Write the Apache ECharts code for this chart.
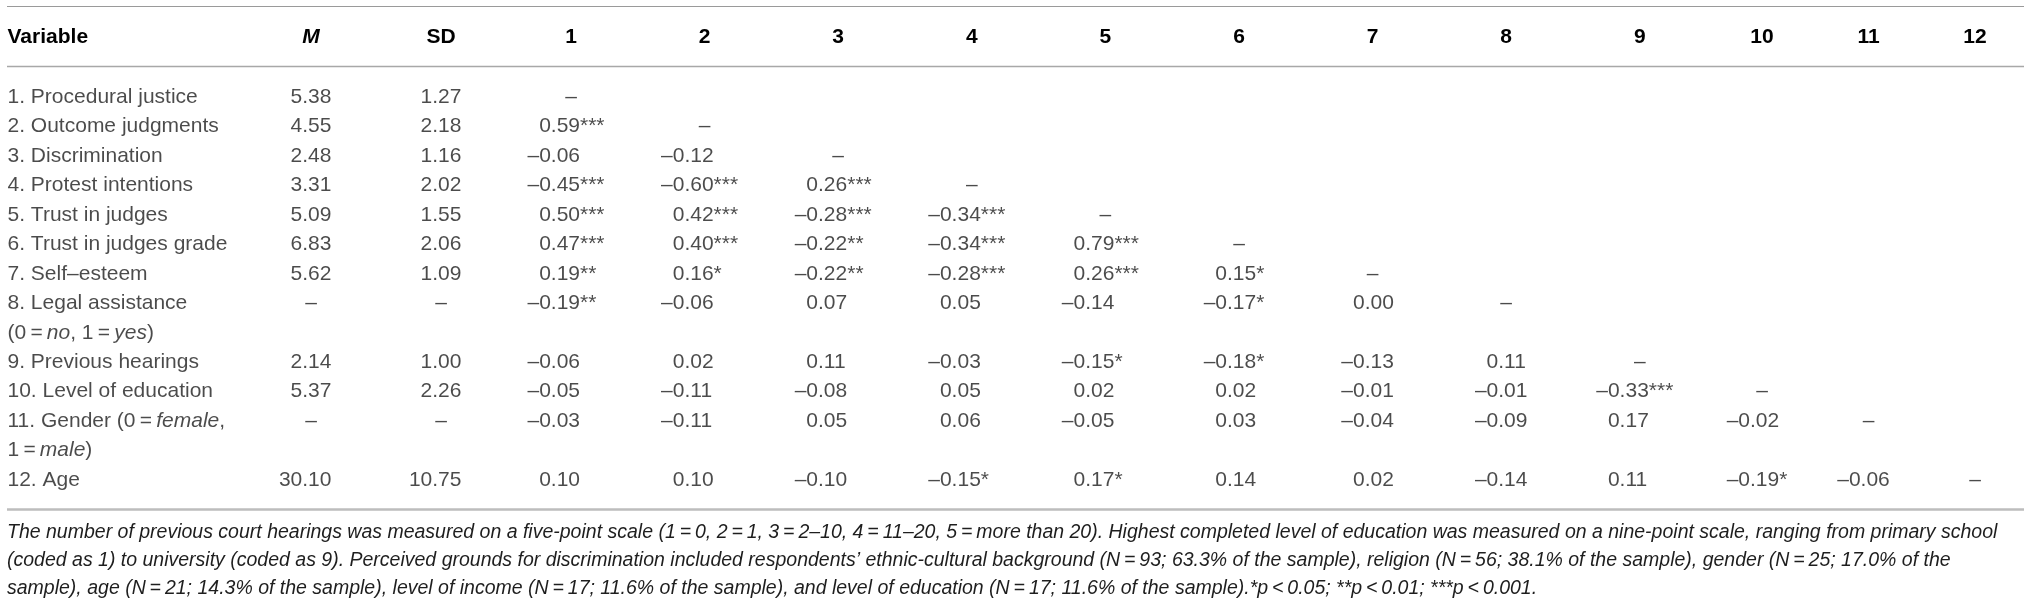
<!DOCTYPE html>
<html>
<head>
<meta charset="utf-8">
<script src="https://cdn.jsdelivr.net/npm/echarts@6/dist/echarts.min.js"></script>
<style>
html,body{margin:0;padding:0;background:#fff;}
#chart{width:2032px;height:606px;}
</style>
</head>
<body>
<div id="chart"></div>
<script>
// ---------------- DATA ----------------
const variables = [
  'Procedural justice',
  'Outcome judgments',
  'Discrimination',
  'Protest intentions',
  'Trust in judges',
  'Trust in judges grade',
  'Self\u2013esteem',
  'Legal assistance\n(0\u2009=\u2009{i|no}, 1\u2009=\u2009{i|yes})',
  'Previous hearings',
  'Level of education',
  'Gender (0\u2009=\u2009{i|female},\n1\u2009=\u2009{i|male})',
  'Age'
];
const statHeaders = ['M', 'SD'];
const corrHeaders1 = ['1','2','3','4','5','6','7','8','9'];
const corrHeaders2 = ['10','11','12'];
const means = [5.38, 4.55, 2.48, 3.31, 5.09, 6.83, 5.62, null, 2.14, 5.37, null, 30.10];
const sds   = [1.27, 2.18, 1.16, 2.02, 1.55, 2.06, 1.09, null, 1.00, 2.26, null, 10.75];
const correlations = [
  [],
  [0.59],
  [-0.06, -0.12],
  [-0.45, -0.60, 0.26],
  [0.50, 0.42, -0.28, -0.34],
  [0.47, 0.40, -0.22, -0.34, 0.79],
  [0.19, 0.16, -0.22, -0.28, 0.26, 0.15],
  [-0.19, -0.06, 0.07, 0.05, -0.14, -0.17, 0.00],
  [-0.06, 0.02, 0.11, -0.03, -0.15, -0.18, -0.13, 0.11],
  [-0.05, -0.11, -0.08, 0.05, 0.02, 0.02, -0.01, -0.01, -0.33],
  [-0.03, -0.11, 0.05, 0.06, -0.05, 0.03, -0.04, -0.09, 0.17, -0.02],
  [0.10, 0.10, -0.10, -0.15, 0.17, 0.14, 0.02, -0.14, 0.11, -0.19, -0.06]
];
const stars = [
  [],
  [3],
  [0, 0],
  [3, 3, 3],
  [3, 3, 3, 3],
  [3, 3, 2, 3, 3],
  [2, 1, 2, 3, 3, 1],
  [2, 0, 0, 0, 0, 1, 0],
  [0, 0, 0, 0, 1, 1, 0, 0],
  [0, 0, 0, 0, 0, 0, 0, 0, 3],
  [0, 0, 0, 0, 0, 0, 0, 0, 0, 0],
  [0, 0, 0, 1, 1, 0, 0, 0, 0, 1, 0]
];
const footnoteLines = [
  'The number of previous court hearings was measured on a five-point scale (1\u2009=\u20090, 2\u2009=\u20091, 3\u2009=\u20092\u201310, 4\u2009=\u200911\u201320, 5\u2009=\u2009more than 20). Highest completed level of education was measured on a nine-point scale, ranging from primary school',
  '(coded as 1) to university (coded as 9). Perceived grounds for discrimination included respondents\u2019 ethnic-cultural background (N\u2009=\u200993; 63.3% of the sample), religion (N\u2009=\u200956; 38.1% of the sample), gender (N\u2009=\u200925; 17.0% of the',
  'sample), age (N\u2009=\u200921; 14.3% of the sample), level of income (N\u2009=\u200917; 11.6% of the sample), and level of education (N\u2009=\u200917; 11.6% of the sample).*p\u2009<\u20090.05; **p\u2009<\u20090.01; ***p\u2009<\u20090.001.'
];

// ---------------- STYLE / LAYOUT ----------------
const FONT = 'Liberation Sans';
const FS = 21;
const TXT = '#1e1e1e';
const DASH = '\u2013';
const CELL_SHIFT = 5;
const TOP = 66.5, HEIGHT = 443;
const FOOT_W = 1989;   // width of the first footnote line

const ctx = document.createElement('canvas').getContext('2d');
function textW(s, size, style) {
  ctx.font = (style ? style + ' ' : '') + (size || FS) + 'px "' + FONT + '"';
  return ctx.measureText(s).width;
}
const footFS = Math.round(19 * FOOT_W / textW(footnoteLines[0], 19, 'italic') * 10) / 10;

// line slots for each variable row
const slots = [];
let totalLines = 0;
variables.forEach(v => { slots.push(totalLines); totalLines += v.split('\n').length; });

function fmtCorr(v, s, rich) {
  const body = Math.abs(v).toFixed(2) + '*'.repeat(s);
  if (v < 0) return DASH + body;
  return rich ? '{h|' + DASH + '}' + body : DASH + body;
}
function fmtStat(v) { return v == null ? DASH : v.toFixed(2); }

const richStyles = {
  h: { color: 'transparent', fontSize: FS, fontFamily: FONT },
  i: { fontStyle: 'italic', fontSize: FS, fontFamily: FONT, color: TXT }
};

// column offsets for correlation columns (block-centred, left-aligned)
const nVar = variables.length;
const colOffset = [];
for (let j = 0; j < nVar; j++) {
  let w = 0;
  for (let i = j + 1; i < nVar; i++) w = Math.max(w, textW(fmtCorr(correlations[i][j], stars[i][j], false)));
  colOffset.push(-w / 2 - CELL_SHIFT);
}
function medianHalf(arr) {
  const ws = arr.filter(v => v != null).map(v => textW(fmtStat(v))).sort((a, b) => a - b);
  return ws[Math.floor(ws.length / 2)] / 2;
}
const statOffsets = [medianHalf(means), medianHalf(sds)];

// ---------------- SERIES DATA ----------------
const labelData = [];
variables.forEach((v, i) => {
  v.split('\n').forEach((line, k) => {
    labelData.push({ value: [0, slots[i] + k], txt: (k === 0 ? (i + 1) + '. ' : '') + line });
  });
});

const statData = [];
[means, sds].forEach((arr, c) => {
  arr.forEach((v, i) => {
    statData.push({
      value: [c, slots[i]], txt: fmtStat(v),
      label: v == null ? { align: 'center', offset: [0, 0] } : { align: 'right', offset: [statOffsets[c], 0] }
    });
  });
});

function corrDataFor(startCol, nCols) {
  const out = [];
  for (let i = 0; i < nVar; i++) {
    for (let j = startCol; j < startCol + nCols && j <= i; j++) {
      if (j === i) {
        out.push({ value: [j - startCol, slots[i]], txt: DASH, label: { align: 'center', offset: [0, 0] } });
      } else {
        out.push({ value: [j - startCol, slots[i]], txt: fmtCorr(correlations[i][j], stars[i][j], true),
                   label: { align: 'left', offset: [colOffset[j], 0] } });
      }
    }
  }
  return out;
}

// ---------------- OPTION ----------------
const grids = [
  { left: 7, top: TOP, width: 1, height: HEIGHT },
  { left: 246, top: TOP, width: 260, height: HEIGHT },
  { left: 504.2, top: TOP, width: 1202.4, height: HEIGHT },
  { left: 1708.75, top: TOP, width: 319.5, height: HEIGHT }
];
function xAx(gi, cats, align) {
  return {
    type: 'category', gridIndex: gi, data: cats, position: 'top',
    axisLine: { show: false }, axisTick: { show: false }, splitLine: { show: false },
    axisLabel: {
      interval: 0, margin: 29.5, verticalAlign: 'middle', align: align,
      fontFamily: FONT, fontSize: FS, fontWeight: 'bold', color: '#000',
      formatter: v => v === 'M' ? '{bi|M}' : v,
      rich: { bi: { fontStyle: 'italic', fontWeight: 'bold', fontSize: FS, fontFamily: FONT, color: '#000' } }
    }
  };
}
function yAx(gi) {
  return { type: 'value', gridIndex: gi, inverse: true, min: -1.04, max: totalLines, show: false };
}
const baseLabel = {
  show: true, position: 'inside', verticalAlign: 'middle',
  fontFamily: FONT, fontSize: FS, color: TXT,
  formatter: p => p.data.txt, rich: richStyles
};
function sc(gi, data, align) {
  return {
    type: 'scatter', xAxisIndex: gi, yAxisIndex: gi, data: data,
    symbolSize: 1, itemStyle: { color: 'transparent' }, clip: false, silent: true,
    label: Object.assign({}, baseLabel, align ? { align: align } : {})
  };
}
function rule(y, w, c) {
  return { type: 'line', shape: { x1: 7, y1: y, x2: 2024, y2: y }, style: { stroke: c, lineWidth: w }, silent: true };
}

const option = {
  animation: false,
  backgroundColor: '#fff',
  title: {
    text: footnoteLines.join('\n'), left: 7, top: 519, padding: 0,
    textStyle: { fontFamily: FONT, fontSize: footFS, fontStyle: 'italic', fontWeight: 'normal', color: TXT, lineHeight: 27.7 }
  },
  grid: grids,
  xAxis: [xAx(0, ['Variable'], 'left'), xAx(1, statHeaders), xAx(2, corrHeaders1), xAx(3, corrHeaders2)],
  yAxis: [yAx(0), yAx(1), yAx(2), yAx(3)],
  series: [
    sc(0, labelData, 'left'),
    sc(1, statData),
    sc(2, corrDataFor(0, 9)),
    sc(3, corrDataFor(9, 3))
  ],
  graphic: [rule(6.5, 1.2, '#9a9a9a'), rule(66.5, 1.5, '#a8a8a8'), rule(509.5, 2.5, '#bdbdbd')]
};
const chart = echarts.init(document.getElementById('chart'), null, { renderer: 'canvas' });
chart.setOption(option);
</script>
</body>
</html>
